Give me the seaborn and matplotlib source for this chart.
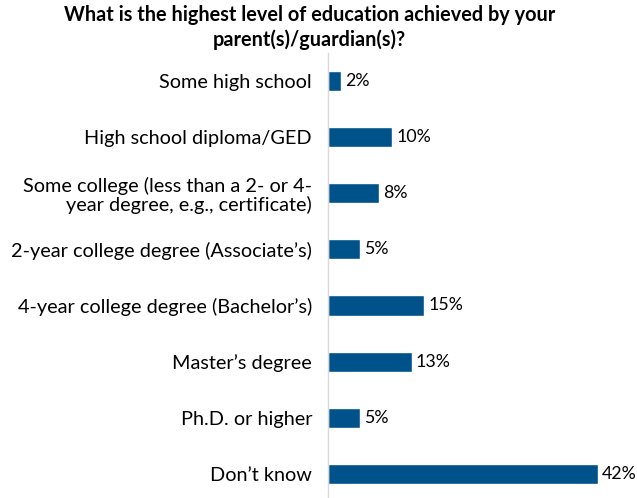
import matplotlib
matplotlib.use("Agg")
import matplotlib.pyplot as plt
import seaborn as sns
import pandas as pd

categories = [
    "Some high school",
    "High school diploma/GED",
    "Some college (less than a 2- or 4-\nyear degree, e.g., certificate)",
    "2-year college degree (Associate\u2019s)",
    "4-year college degree (Bachelor\u2019s)",
    "Master\u2019s degree",
    "Ph.D. or higher",
    "Don\u2019t know",
]
values = [2, 10, 8, 5, 15, 13, 5, 42]
title = "What is the highest level of education achieved by your\nparent(s)/guardian(s)?"

df = pd.DataFrame({"category": categories, "value": values})

sns.set_theme(style="white")
plt.rcParams["font.family"] = ["Lato", "DejaVu Sans"]

fig = plt.figure(figsize=(6.37, 4.98), dpi=100)
ax = fig.add_axes([0.515, -0.008, 0.474, 0.902])
sns.barplot(data=df, x="value", y="category", color="#00538A", width=0.36,
            saturation=1, ax=ax, orient="h")
ax.set_xlim(0, 47)
ax.set_xlabel("")
ax.set_ylabel("")
ax.set_xticks([])
for s in ["top", "right", "bottom"]:
    ax.spines[s].set_visible(False)
ax.spines["left"].set_color("#D9D9D9")
ax.spines["left"].set_linewidth(1.0)
ax.tick_params(axis="y", length=0, pad=11.5, labelsize=14.3, labelcolor="#000000")
for lbl in ax.get_yticklabels():
    lbl.set_horizontalalignment("right")
    lbl.set_linespacing(1.1)
for i, v in enumerate(values):
    ax.text(v + 0.6, i, f"{v}%", va="center", ha="left", fontsize=12.8, color="#000000")

fig.text(0.486, 0.99, title, ha="center", va="top", fontsize=14.3, fontweight="bold",
         color="#000000", linespacing=1.25)

fig.savefig("out.png", dpi=100)
